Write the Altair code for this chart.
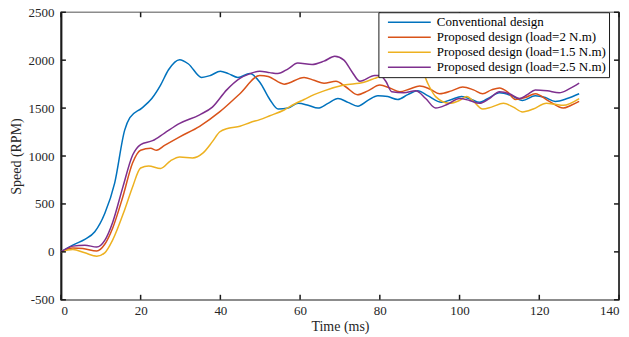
import altair as alt
import pandas as pd

series_names = [
    "Conventional design",
    "Proposed design (load=2 N.m)",
    "Proposed design (load=1.5 N.m)",
    "Proposed design (load=2.5 N.m)",
]
series_colors = ["#0072BD", "#D95319", "#EDB120", "#7E2F8E"]

t_conv = [0, 3.5, 6, 8.5, 11, 13.5, 16, 17.3, 20.3, 22.8, 25, 27, 29.8, 32, 35.3, 37.5, 40, 42, 44.4,
          47.4, 49.9, 52.4, 54.5, 57, 59.5, 62, 64.5, 67, 69.5, 72, 74.5, 77, 79.5, 82, 84.5, 87,
          89.5, 92, 95.5, 98, 100.5, 103, 105, 107.5, 110, 113, 115.8, 119, 121.5, 124, 127, 130]
v_conv = [0, 80, 130, 210, 400, 720, 1270, 1400, 1500, 1600, 1740, 1900, 2005, 1960, 1820, 1840, 1885,
          1860, 1820, 1860, 1770, 1590, 1490, 1500, 1550, 1530, 1500, 1550, 1600, 1560, 1520, 1580,
          1630, 1620, 1590, 1640, 1680, 1630, 1560, 1590, 1620, 1590, 1560, 1610, 1660, 1630, 1580,
          1630, 1610, 1570, 1600, 1650]

t_load2 = [0, 3, 5.5, 9, 11, 13, 15.5, 18, 20, 22.5, 24, 26, 29.8, 34.8, 39.8, 44.9, 49.9, 52, 56, 61,
           63.5, 66, 69, 71.5, 74.4, 77, 80, 82.5, 85, 87.5, 90, 92.5, 95, 98, 100.8, 103.5, 105.8,
           108, 110, 112, 114, 116.5, 119, 122.5, 126, 128, 130]
v_load2 = [0, 40, 35, 10, 80, 250, 570, 930, 1060, 1080, 1060, 1110, 1200, 1310, 1460, 1650, 1840,
           1830, 1750, 1820, 1790, 1760, 1780, 1720, 1640, 1680, 1740, 1710, 1670, 1700, 1730, 1700,
           1650, 1680, 1720, 1690, 1650, 1690, 1710, 1670, 1590, 1610, 1650, 1570, 1500, 1530, 1570]

t_load15 = [0, 3, 6, 9, 11, 13, 16, 18, 20, 22, 25, 27.5, 29.8, 33, 35.6, 38, 39.8, 42, 44.9, 47.5,
            49.9, 52.4, 56, 58.5, 61, 63.5, 66, 71, 76, 78.7, 80, 82.5, 87.5, 90, 91, 92, 94, 97.5,
            100, 101.8, 103.5, 105.8, 108, 111, 113.5, 115.8, 118.5, 121.8, 124, 126, 130]
v_load15 = [0, 25, -10, -45, -10, 125, 440, 680, 875, 895, 870, 950, 990, 980, 1030, 1150, 1250,
            1290, 1310, 1350, 1380, 1420, 1480, 1540, 1590, 1640, 1680, 1740, 1770, 1810, 1830, 1850,
            1860, 1870, 1850, 1760, 1620, 1550, 1580, 1620, 1570, 1490, 1510, 1550, 1510, 1460, 1490,
            1550, 1540, 1530, 1600]

t_load25 = [0, 3, 6, 9, 11, 13, 15.5, 18, 20, 23, 26, 29.8, 34.8, 38, 41.6, 44.9, 47.5, 49.9, 52.4,
            54.4, 57, 59.4, 63, 66, 68.7, 71, 73, 75, 78.7, 80, 81.5, 83, 86, 89, 91.5, 94, 97, 100,
            102.5, 105, 107.5, 110, 112.5, 115, 117, 119, 122, 125, 127.5, 130]
v_load25 = [0, 60, 70, 50, 120, 310, 670, 1010, 1120, 1160, 1240, 1340, 1430, 1510, 1690, 1810, 1860,
            1885, 1870, 1860, 1910, 1970, 1955, 1990, 2040, 2000, 1880, 1780, 1840, 1840, 1780, 1670,
            1660, 1680, 1600, 1500, 1540, 1600, 1580, 1550, 1600, 1670, 1650, 1600, 1640, 1690, 1680,
            1660, 1700, 1760]

x_ticks = [0, 20, 40, 60, 80, 100, 120, 140]
y_ticks = [-500, 0, 500, 1000, 1500, 2000, 2500]

W, H = 559, 288
FONT = "Liberation Serif"
TICK = "#1a1a1a"
X0, X1, Y0, Y1 = 0, 140, -500, 2500
# inward tick length (5 px) expressed in each scale's units
TX = 5 * (X1 - X0) / W
TY = 5 * (Y1 - Y0) / H

rows = []
for name, ts, vs in zip(series_names, [t_conv, t_load2, t_load15, t_load25],
                        [v_conv, v_load2, v_load15, v_load25]):
    for t, v in zip(ts, vs):
        rows.append({"Time": t, "Speed": v, "Series": name, "seg": name})

# frame ticks (inward, as in MATLAB's box) and the right-hand frame edge
for t in x_ticks:
    for s0, s1, tag in [(Y0, Y0 + TY, "b"), (Y1, Y1 - TY, "t")]:
        rows.append({"Time": t, "Speed": s0, "Series": "axis", "seg": f"x{tag}{t}"})
        rows.append({"Time": t, "Speed": s1, "Series": "axis", "seg": f"x{tag}{t}"})
for v in y_ticks:
    for a0, a1, tag in [(X0, X0 + TX, "l"), (X1 - TX, X1, "r")]:
        rows.append({"Time": a0, "Speed": v, "Series": "axis", "seg": f"y{tag}{v}"})
        rows.append({"Time": a1, "Speed": v, "Series": "axis", "seg": f"y{tag}{v}"})
rows.append({"Time": X1, "Speed": Y0, "Series": "axis", "seg": "right"})
rows.append({"Time": X1, "Speed": Y1, "Series": "axis", "seg": "right"})
df = pd.DataFrame(rows)

xs = alt.Scale(domain=[X0, X1], nice=False, zero=False)
ys = alt.Scale(domain=[Y0, Y1], nice=False, zero=False)

x_axis = alt.Axis(values=x_ticks, title="Time (ms)", tickSize=0, labelPadding=5, grid=False,
                  domainColor="#8c8c8c", domainWidth=1.5, titlePadding=2,
                  labelExpr="datum.value + ''")
y_axis = alt.Axis(values=y_ticks, title="Speed (RPM)", tickSize=0, labelPadding=7, grid=False,
                  domainColor=TICK, domainWidth=2, titlePadding=4,
                  labelExpr="datum.value + ''")

chart = alt.Chart(df).mark_line(strokeWidth=1.5, interpolate="monotone").encode(
    x=alt.X("Time:Q", scale=xs, axis=x_axis),
    y=alt.Y("Speed:Q", scale=ys, axis=y_axis),
    color=alt.Color(
        "Series:N",
        scale=alt.Scale(domain=series_names + ["axis"], range=series_colors + [TICK]),
        legend=alt.Legend(
            values=series_names,
            title=None, orient="none", legendX=318, legendY=0,
            strokeColor=TICK, fillColor="white", padding=2.5,
            symbolType="M-3.3,0L3.3,0", symbolSize=169, symbolStrokeWidth=1.5,
            symbolOffset=21,
            labelFont=FONT, labelFontSize=13, labelColor="black", labelLimit=400,
            rowPadding=0, labelOffset=20,
        ),
    ),
    detail="seg:N",
    order=alt.Order("Time:Q"),
).properties(
    width=W, height=H,
    padding={"left": 61, "top": 12, "right": 10, "bottom": 37},
    autosize=alt.AutoSizeParams(type="none"),
    background="white",
).configure_view(
    stroke="#8c8c8c", strokeWidth=1.5,
).configure_axis(
    labelFont=FONT, labelFontSize=13, labelColor="#262626",
    titleFont=FONT, titleFontSize=14, titleColor="#262626", titleFontWeight="normal",
)

chart.save("out.html", embed_options={"renderer": "svg", "actions": False})
